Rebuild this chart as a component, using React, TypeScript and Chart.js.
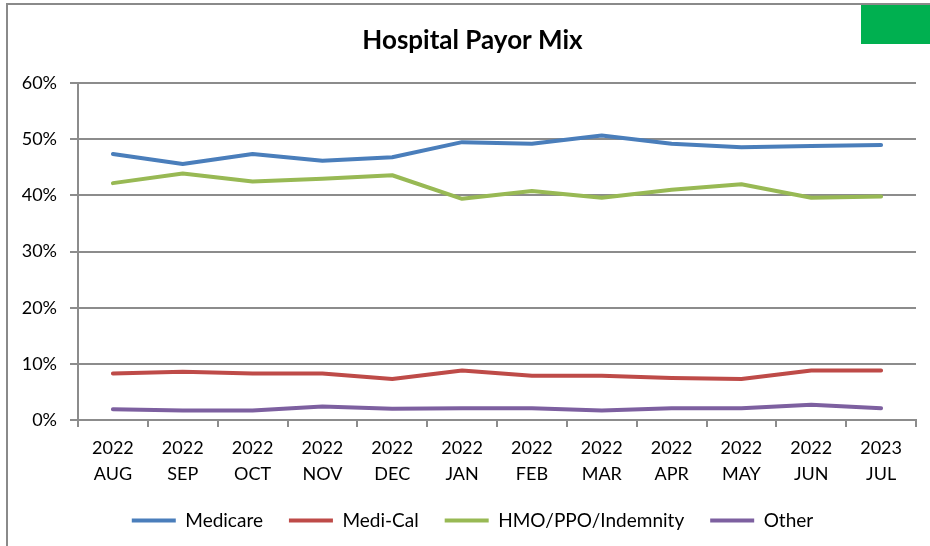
import React, { useEffect, useRef } from "react";
import { Chart, registerables } from "chart.js";

Chart.register(...registerables);

const years = ["2022", "2022", "2022", "2022", "2022", "2022", "2022", "2022", "2022", "2022", "2022", "2023"];
const months = ["AUG", "SEP", "OCT", "NOV", "DEC", "JAN", "FEB", "MAR", "APR", "MAY", "JUN", "JUL"];

const medicare = [47.4, 45.6, 47.4, 46.2, 46.8, 49.5, 49.2, 50.7, 49.2, 48.6, 48.8, 49.0];
const mediCal = [8.3, 8.6, 8.3, 8.3, 7.3, 8.8, 7.9, 7.9, 7.5, 7.3, 8.8, 8.8];
const hmo = [42.2, 43.9, 42.5, 43.0, 43.6, 39.4, 40.8, 39.6, 41.0, 42.0, 39.6, 39.8];
const other = [1.9, 1.7, 1.7, 2.4, 2.0, 2.1, 2.1, 1.7, 2.1, 2.1, 2.7, 2.1];

const yTicks = [0, 10, 20, 30, 40, 50, 60];

const FONT = "Lato";
const GRID = "#8c8c8c";

const framePlugin = {
  id: "frame",
  beforeDraw(chart: any) {
    const ctx = chart.ctx;
    ctx.save();
    ctx.fillStyle = "#ffffff";
    ctx.fillRect(0, 0, chart.width, chart.height);
    ctx.strokeStyle = "#8a8a8a";
    ctx.lineWidth = 2;
    ctx.strokeRect(7, 4, chart.width + 20, chart.height + 20);
    ctx.fillStyle = "#00b050";
    ctx.fillRect(861, 5, 80, 39);
    ctx.restore();
  },
};

export default function App() {
  const ref = useRef<HTMLCanvasElement | null>(null);

  useEffect(() => {
    document.body.style.margin = "0";
    const canvas = ref.current;
    if (!canvas) return;
    const labels = years.map((y, i) => [y, months[i]]);
    const ds = (label: string, data: number[], color: string) => ({
      label,
      data,
      borderColor: color,
      backgroundColor: color,
      borderWidth: 4,
      pointRadius: 0,
      pointHoverRadius: 0,
      tension: 0,
      borderCapStyle: "round" as const,
      borderJoinStyle: "round" as const,
      fill: false,
    });
    const chart = new Chart(canvas, {
      type: "line",
      data: {
        labels,
        datasets: [
          ds("Medicare", medicare, "#4a7ebb"),
          ds("Medi-Cal", mediCal, "#be4b48"),
          ds("HMO/PPO/Indemnity", hmo, "#98b954"),
          ds("Other", other, "#7d60a0"),
        ],
      },
      options: {
        animation: false,
        responsive: false,
        maintainAspectRatio: false,
        layout: { padding: { left: 20, right: 5, top: 0, bottom: 6 } },
        plugins: {
          title: {
            display: true,
            text: "Hospital Payor Mix",
            color: "#000",
            font: { family: FONT, size: 26, weight: "bold" },
            padding: { top: 25, bottom: 27 },
          },
          legend: {
            display: true,
            position: "bottom",
            labels: {
              color: "#000",
              font: { family: FONT, size: 19 },
              usePointStyle: true,
              pointStyle: "line",
              pointStyleWidth: 44,
              padding: 26,
            },
          },
          tooltip: { enabled: false },
        },
        scales: {
          x: {
            type: "category",
            offset: true,
            grid: {
              offset: true,
              drawOnChartArea: false,
              drawTicks: true,
              tickLength: 7,
              color: GRID,
              lineWidth: 2,
            },
            border: { display: true, color: GRID, width: 2 },
            ticks: {
              color: "#000",
              font: { family: FONT, size: 18, lineHeight: 1.45 },
              padding: 8,
              maxRotation: 0,
              autoSkip: false,
            },
            afterFit(scale: any) {
              scale.height = 65;
            },
          },
          y: {
            min: 0,
            max: 60,
            afterBuildTicks(scale: any) {
              scale.ticks = yTicks.map((v) => ({ value: v }));
            },
            grid: { color: GRID, lineWidth: 2, tickLength: 8, drawTicks: true },
            border: { display: true, color: GRID, width: 2 },
            ticks: {
              color: "#000",
              font: { family: FONT, size: 18 },
              padding: 13,
              callback: (v: any) => v + "%",
            },
            afterFit(scale: any) {
              scale.width = 58;
            },
          },
          spacer: {
            type: "linear",
            position: "right",
            display: true,
            min: 0,
            max: 1,
            grid: { display: false, drawTicks: false },
            border: { display: false },
            ticks: { display: false },
            afterFit(scale: any) {
              scale.width = 9;
            },
          },
        },
      } as any,
      plugins: [framePlugin],
    });
    return () => chart.destroy();
  }, []);

  return (
    <div style={{ position: "absolute", left: 0, top: 0, width: 930, height: 546 }}>
      <canvas ref={ref} width={930} height={546} style={{ display: "block" }} />
    </div>
  );
}
